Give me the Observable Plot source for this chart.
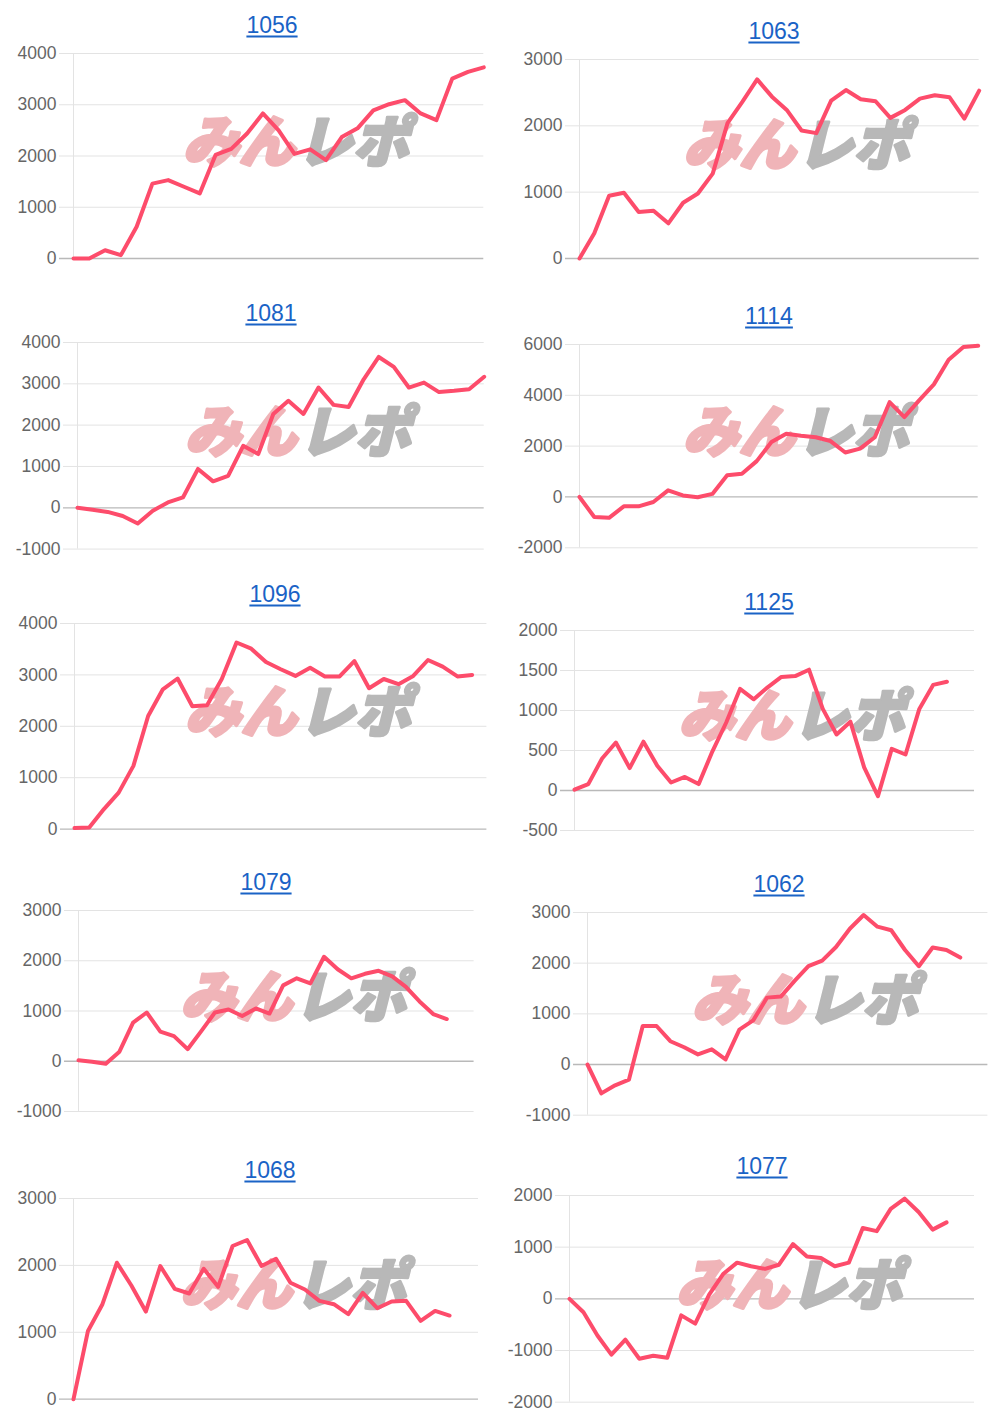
<!DOCTYPE html>
<html><head><meta charset="utf-8">
<script src="https://cdn.jsdelivr.net/npm/d3@7"></script>
<script src="https://cdn.jsdelivr.net/npm/@observablehq/plot@0.6"></script>
<style>
body{margin:0;background:#fff;}
#root{position:relative;width:1000px;height:1420px;overflow:hidden;font-family:"Liberation Sans",Arial,Helvetica,sans-serif;}
.ttl{position:absolute;transform:translate(-50%,-50%);color:#1a63c6;text-decoration:underline;text-decoration-thickness:1.5px;text-underline-offset:3px;font-size:23px;line-height:1;white-space:nowrap;}
.pn{position:absolute;overflow:visible;}
</style></head><body><div id="root"></div>
<script>
// ---- data ----
const titles = ["1056","1063","1081","1114","1096","1125","1079","1062","1068","1077"];
const slotCounts = [27, 28, 28, 28, 29, 30, 30, 30, 29, 30];
const yDomains = [[0,4000],[0,3000],[-1000,4000],[-2000,6000],[0,4000],[-500,2000],[-1000,3000],[-1000,3000],[0,3000],[-2000,2000]];
const yTicks = [
  [0,1000,2000,3000,4000],
  [0,1000,2000,3000],
  [-1000,0,1000,2000,3000,4000],
  [-2000,0,2000,4000,6000],
  [0,1000,2000,3000,4000],
  [-500,0,500,1000,1500,2000],
  [-1000,0,1000,2000,3000],
  [-1000,0,1000,2000,3000],
  [0,1000,2000,3000],
  [-2000,-1000,0,1000,2000]
];
const s1056 = [0,0,160,65,620,1460,1530,1400,1270,2020,2140,2440,2830,2500,2040,2130,1920,2370,2540,2890,3010,3090,2830,2700,3510,3640,3730];
const s1063 = [0,380,945,990,700,720,530,840,980,1280,2040,2360,2700,2440,2240,1930,1890,2380,2540,2400,2370,2120,2240,2410,2460,2430,2110,2530];
const s1081 = [0,-50,-100,-200,-380,-70,130,250,940,640,770,1500,1300,2270,2590,2270,2910,2490,2440,3110,3650,3410,2910,3030,2800,2830,2870,3170];
const s1114 = [0,-790,-820,-370,-370,-200,260,60,-10,120,850,910,1410,2160,2490,2410,2350,2200,1750,1900,2350,3730,3140,3800,4430,5400,5900,5950];
const s1096 = [20,30,390,710,1230,2200,2720,2930,2390,2410,2920,3630,3510,3250,3110,2980,3140,2970,2970,3270,2740,2920,2820,2980,3290,3160,2970,3000];
const s1125 = [10,80,400,600,280,610,310,100,170,80,490,850,1270,1140,1290,1420,1430,1510,1020,700,860,290,-70,520,450,1020,1320,1360];
const s1079 = [20,-10,-50,190,770,970,590,500,240,600,970,1030,900,1050,950,1510,1650,1550,2080,1830,1650,1740,1800,1690,1480,1190,940,840];
const s1062 = [0,-570,-410,-300,760,760,460,340,200,300,100,690,870,1320,1340,1650,1940,2050,2320,2680,2950,2720,2650,2260,1940,2310,2260,2110];
const s1068 = [0,1020,1420,2040,1700,1310,1990,1650,1580,1950,1680,2290,2380,1990,2100,1740,1640,1470,1420,1270,1590,1360,1460,1470,1170,1320,1250];
const s1077 = [0,-260,-710,-1080,-790,-1160,-1100,-1140,-320,-480,80,480,700,630,580,660,1060,820,790,630,700,1370,1310,1740,1940,1680,1340,1480];
const seriesList = [s1056,s1063,s1081,s1114,s1096,s1125,s1079,s1062,s1068,s1077];
const watermarkParts = ["みん","レポ"];

// ---- layout (pixel placement of each panel's plot area) ----
const layout = [
  {tx:272, ty:25,  xl:72.7, xr:483,   yt:53.3,  yb:258.3},
  {tx:774, ty:31,  xl:579.3,xr:979,   yt:59.3,  yb:258.3},
  {tx:271, ty:312.5,xl:77.3,xr:484,   yt:341.7, yb:548.3},
  {tx:769, ty:315.5,xl:579, xr:977.7, yt:344,   yb:547.3},
  {tx:275, ty:594, xl:74.3, xr:486.7, yt:622.7, yb:828.3},
  {tx:769, ty:602, xl:574.3,xr:974.3, yt:630,   yb:830},
  {tx:266, ty:881.5,xl:77.7,xr:473.3, yt:909.7, yb:1110.7},
  {tx:779, ty:884, xl:587.3,xr:987.7, yt:912.3, yb:1115},
  {tx:270, ty:1170,xl:73.3, xr:478.3, yt:1198.3,yb:1399},
  {tx:762, ty:1166,xl:569,  xr:974,   yt:1195,  yb:1401.7}
];

const root = document.getElementById("root");
const ML = 70, MR = 8, MT = 14, MB = 14;
const lineColor = "#fd4c6b";
const wmFont = '"Noto Sans CJK JP", sans-serif';

titles.forEach((t, i) => {
  const L = layout[i];
  const series = seriesList[i];
  const svg = Plot.plot({
    width: (L.xr - L.xl) + ML + MR,
    height: (L.yb - L.yt) + MT + MB,
    marginLeft: ML, marginRight: MR, marginTop: MT, marginBottom: MB,
    style: {background: "transparent", fontFamily: '"Liberation Sans", Arial, Helvetica, sans-serif', overflow: "visible"},
    x: {domain: [0, slotCounts[i] - 1], axis: null},
    y: {domain: yDomains[i], axis: null},
    marks: [
      Plot.ruleY(yTicks[i].filter(v => v !== 0), {y: d => d, stroke: "#e3e3e3", strokeWidth: 1, insetLeft: -14}),
      Plot.ruleX([0], {x: d => d, stroke: "#e3e3e3", strokeWidth: 1}),
      Plot.ruleY([0], {y: d => d, stroke: "#b9b9b9", strokeWidth: 1.3, insetLeft: -14}),
      Plot.axisY({ticks: yTicks[i], tickSize: 0, tickPadding: 17, fontSize: 17.5, fill: "#666", label: null, tickFormat: d => String(d)}),
      Plot.text([watermarkParts[0]], {text: d => d, frameAnchor: "middle", textAnchor: "end", dx: 16, dy: -12,
        fill: "#f0b4b8", stroke: "#f0b4b8", strokeWidth: 3, strokeLinejoin: "round",
        fontSize: 56, fontWeight: 900, fontStyle: "italic", fontFamily: wmFont}),
      Plot.text([watermarkParts[1]], {text: d => d, frameAnchor: "middle", textAnchor: "start", dx: 18, dy: -12,
        fill: "#b8b8b8", stroke: "#b8b8b8", strokeWidth: 3, strokeLinejoin: "round",
        fontSize: 56, fontWeight: 900, fontStyle: "italic", fontFamily: wmFont}),
      Plot.line(series, {x: (d, k) => k, y: d => d, stroke: lineColor, strokeWidth: 4, strokeLinejoin: "round", strokeLinecap: "round"})
    ]
  });
  svg.classList.add("pn");
  svg.style.left = (L.xl - ML) + "px";
  svg.style.top = (L.yt - MT) + "px";
  root.appendChild(svg);

  const ttl = document.createElement("div");
  ttl.className = "ttl";
  ttl.textContent = t;
  ttl.style.left = L.tx + "px";
  ttl.style.top = L.ty + "px";
  root.appendChild(ttl);
});
</script>
</body></html>
